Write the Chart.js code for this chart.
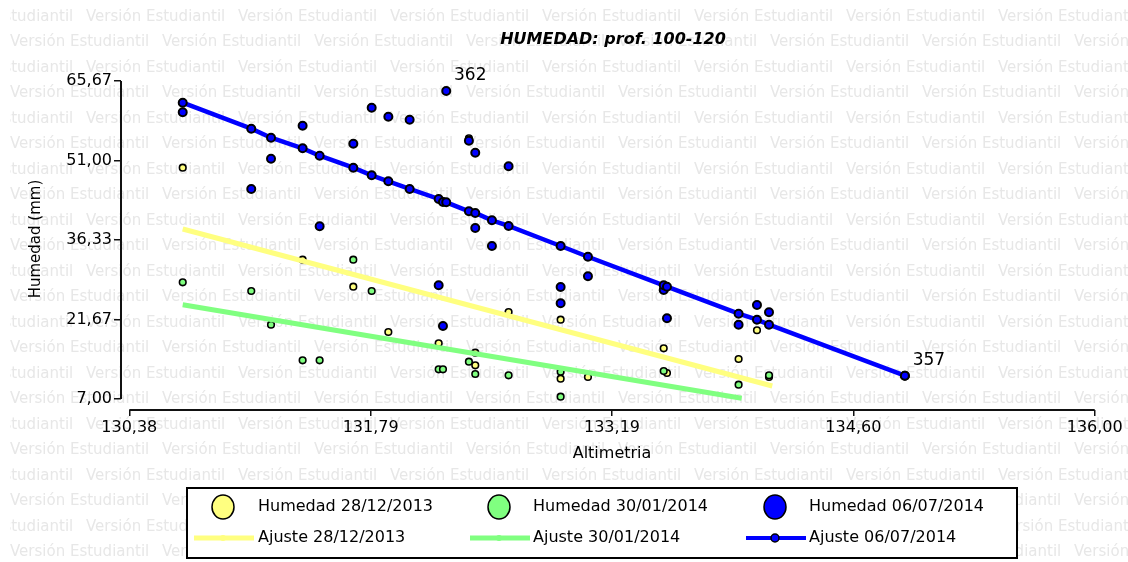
<!DOCTYPE html>
<html><head><meta charset="utf-8">
<script src="https://cdn.jsdelivr.net/npm/chart.js@4/dist/chart.umd.min.js"></script>
<style>html,body{margin:0;padding:0;background:#fff}canvas{display:block}</style>
</head><body>
<canvas id="c" width="1128" height="562"></canvas>
<script>
// ---- data ----
const titleText = 'HUMEDAD: prof. 100-120';
const xTitle = 'Altimetria';
const yTitle = 'Humedad (mm)';
const xTicks = [130.38, 131.785, 133.19, 134.595, 136.00];
const xTickLabels = ['130,38', '131,79', '133,19', '134,60', '136,00'];
const yTicks = [7.00, 21.6675, 36.335, 51.0025, 65.67];
const yTickLabels = ['7,00', '21,67', '36,33', '51,00', '65,67'];

const seriesLabels = ['Humedad 28/12/2013', 'Humedad 30/01/2014', 'Humedad 06/07/2014'];
const fitLabels = ['Ajuste 28/12/2013', 'Ajuste 30/01/2014', 'Ajuste 06/07/2014'];

const yellowX = [130.691,132.357,131.389,131.684,131.888,132.588,132.891,132.181,132.394,132.394,132.891,133.050,133.491,133.510,134.034,133.927,134.104];
const yellowY = [49.68,55.10,32.70,27.72,19.36,23.05,21.63,17.28,15.54,13.22,10.75,11.06,16.35,11.80,19.68,14.38,11.06];

const greenX = [130.691,131.090,131.205,131.389,131.488,131.684,131.791,132.181,132.206,132.357,132.394,132.588,132.891,132.891,133.491,133.927,134.104];
const greenY = [28.53,26.93,20.71,14.14,14.14,32.70,26.93,12.48,12.48,13.88,11.61,11.37,12.04,7.42,12.17,9.64,11.37];

const blueX = [130.691,131.090,131.205,131.389,131.488,131.684,131.791,131.888,132.012,132.181,132.206,132.225,132.357,132.394,132.394,132.491,132.588,132.891,132.891,133.050,133.491,133.510,133.927,134.034,134.104,134.895];
const blueY = [59.90,45.75,51.34,57.42,38.86,54.10,60.75,59.08,58.53,27.98,20.47,63.83,54.66,52.44,38.55,35.23,49.93,27.66,24.66,29.64,27.11,21.89,20.71,24.34,23.00,11.30];

const fitYellowX = [130.691, 134.123];
const fitYellowY = [38.37, 9.40];
const fitGreenX = [130.691, 133.945];
const fitGreenY = [24.40, 7.13];
const fitBlueX = [130.691,131.090,131.205,131.389,131.488,131.684,131.791,131.888,132.012,132.181,132.206,132.225,132.357,132.394,132.491,132.588,132.891,133.050,133.491,133.510,133.927,134.034,134.104,134.895];
const fitBlueY = [61.67,56.87,55.21,53.25,51.89,49.68,48.27,47.17,45.75,43.90,43.35,43.29,41.63,41.32,39.97,38.92,35.23,33.25,27.98,27.72,22.74,21.63,20.71,11.30];

const annotLabels = ['362', '357'];
const annotX = [132.225, 134.895];
const annotY = [63.83, 11.30];

const watermark = 'Versión Estudiantil';

// ---- styling / layout ----
const W = 1128, H = 562;
const FONT = '"DejaVu Sans", sans-serif';
const YELLOW = '#ffff80', GREEN = '#80ff80', BLUE = '#0000ff';
const X_MIN = 130.3317, X_MAX = 136.00;
const Y_MIN = 4.9705, Y_MAX = 65.67;

const zip = (xs, ys) => xs.map((x, i) => ({x: x, y: ys[i]}));

const deco = {
  id: 'deco',
  beforeDraw(chart) {
    const ctx = chart.ctx;
    ctx.save();
    ctx.fillStyle = '#fff';
    ctx.fillRect(0, 0, W, H);
    ctx.beginPath();
    ctx.rect(10, 0, W - 10, H);
    ctx.clip();
    ctx.font = '15px ' + FONT;
    ctx.fillStyle = '#e7e7e7';
    ctx.textBaseline = 'middle';
    ctx.textAlign = 'left';
    for (let k = 0; k < 23; k++) {
      const y = 17 + 25.5 * k;
      const off = (k % 2 === 0) ? -66 : 10;
      for (let x = off; x < W; x += 152) ctx.fillText(watermark, x, y);
    }
    ctx.restore();
  },
  afterDraw(chart) {
    const ctx = chart.ctx;
    const xs = chart.scales.x, ys = chart.scales.y, ca = chart.chartArea;
    ctx.save();
    // axis lines
    ctx.strokeStyle = '#111';
    ctx.lineWidth = 2;
    ctx.beginPath();
    ctx.moveTo(ca.left, ys.getPixelForValue(yTicks[yTicks.length - 1]));
    ctx.lineTo(ca.left, ys.getPixelForValue(yTicks[0]));
    ctx.moveTo(xs.getPixelForValue(xTicks[0]), ca.bottom);
    ctx.lineTo(xs.getPixelForValue(xTicks[xTicks.length - 1]), ca.bottom);
    ctx.stroke();
    // titles
    ctx.fillStyle = '#000';
    ctx.textAlign = 'center';
    ctx.textBaseline = 'middle';
    ctx.font = 'italic bold 16px ' + FONT;
    ctx.fillText(titleText, 613, 40);
    ctx.font = '16px ' + FONT;
    ctx.fillText(xTitle, 612, 454);
    ctx.save();
    ctx.translate(36, 239);
    ctx.rotate(-Math.PI / 2);
    ctx.font = '15px ' + FONT;
    ctx.fillText(yTitle, 0, 0);
    ctx.restore();
    // annotations
    ctx.font = '17px ' + FONT;
    for (let i = 0; i < annotLabels.length; i++) {
      const px = xs.getPixelForValue(annotX[i]), py = ys.getPixelForValue(annotY[i]);
      ctx.fillText(annotLabels[i], px + 24, py - 15);
    }
    // legend
    const lx = 187, ly = 488, lw = 830, lh = 70;
    ctx.fillStyle = '#fff';
    ctx.fillRect(lx, ly, lw, lh);
    ctx.strokeStyle = '#000';
    ctx.lineWidth = 2;
    ctx.strokeRect(lx, ly, lw, lh);
    const cols = [223, 499, 775];
    const textX = [258, 533, 809];
    const colors = [YELLOW, GREEN, BLUE];
    const r1 = 507, r2 = 538;
    ctx.font = '16px ' + FONT;
    ctx.textAlign = 'left';
    for (let i = 0; i < 3; i++) {
      ctx.beginPath();
      ctx.ellipse(cols[i], r1, 11, 12, 0, 0, Math.PI * 2);
      ctx.fillStyle = colors[i];
      ctx.fill();
      ctx.lineWidth = 1.5;
      ctx.strokeStyle = '#000';
      ctx.stroke();
      ctx.fillStyle = '#000';
      ctx.fillText(seriesLabels[i], textX[i], r1);
      // fit line sample
      ctx.beginPath();
      ctx.moveTo(cols[i] - 29, r2);
      ctx.lineTo(cols[i] + 31, r2);
      ctx.strokeStyle = colors[i];
      ctx.lineWidth = i === 2 ? 4 : 5;
      ctx.stroke();
      ctx.beginPath();
      ctx.arc(cols[i], r2, i === 2 ? 4 : 3, 0, Math.PI * 2);
      ctx.fillStyle = colors[i];
      ctx.fill();
      if (i === 2) { ctx.lineWidth = 1.5; ctx.strokeStyle = '#000'; ctx.stroke(); }
      ctx.fillStyle = '#000';
      ctx.fillText(fitLabels[i], textX[i], r2);
    }
    ctx.restore();
  }
};

const tickFont = {family: FONT, size: 16};

new Chart(document.getElementById('c'), {
  type: 'scatter',
  data: {
    datasets: [
      {label: fitLabels[2], data: zip(fitBlueX, fitBlueY), showLine: true, borderColor: BLUE, borderWidth: 4.5,
       pointRadius: 4, pointBackgroundColor: BLUE, pointBorderColor: '#000', pointBorderWidth: 2, tension: 0, order: 0},
      {label: fitLabels[1], data: zip(fitGreenX, fitGreenY), showLine: true, borderColor: GREEN, borderWidth: 5,
       pointRadius: 0, tension: 0, order: 1},
      {label: fitLabels[0], data: zip(fitYellowX, fitYellowY), showLine: true, borderColor: YELLOW, borderWidth: 5,
       pointRadius: 0, tension: 0, order: 2},
      {label: seriesLabels[2], data: zip(blueX, blueY), pointRadius: 4, pointBackgroundColor: BLUE,
       pointBorderColor: '#000', pointBorderWidth: 2, order: 3},
      {label: seriesLabels[1], data: zip(greenX, greenY), pointRadius: 3.3, pointBackgroundColor: GREEN,
       pointBorderColor: '#000', pointBorderWidth: 1.6, order: 4},
      {label: seriesLabels[0], data: zip(yellowX, yellowY), pointRadius: 3.3, pointBackgroundColor: YELLOW,
       pointBorderColor: '#000', pointBorderWidth: 1.6, order: 5}
    ]
  },
  options: {
    responsive: false,
    animation: false,
    devicePixelRatio: 1,
    layout: {padding: {left: 0, top: 81, right: 33.3, bottom: 0}},
    plugins: {legend: {display: false}, tooltip: {enabled: false}, title: {display: false}},
    scales: {
      x: {
        type: 'linear', min: X_MIN, max: X_MAX,
        afterBuildTicks(s) { s.ticks = xTicks.map(v => ({value: v})); },
        afterFit(s) { s.height = H - 410; },
        ticks: {callback: (v, i) => xTickLabels[i], font: tickFont, color: '#000', padding: 2, maxRotation: 0, autoSkip: false},
        grid: {drawOnChartArea: false, drawTicks: true, tickLength: 6, color: '#111', lineWidth: 1.5},
        border: {display: false}
      },
      y: {
        type: 'linear', min: Y_MIN, max: Y_MAX,
        afterBuildTicks(s) { s.ticks = yTicks.map(v => ({value: v})); },
        afterFit(s) { s.width = 121; },
        ticks: {callback: (v, i) => yTickLabels[i], font: tickFont, color: '#000', padding: 2, autoSkip: false},
        grid: {drawOnChartArea: false, drawTicks: true, tickLength: 7, color: '#111', lineWidth: 1.5},
        border: {display: false}
      }
    }
  },
  plugins: [deco]
});
</script>
</body></html>
